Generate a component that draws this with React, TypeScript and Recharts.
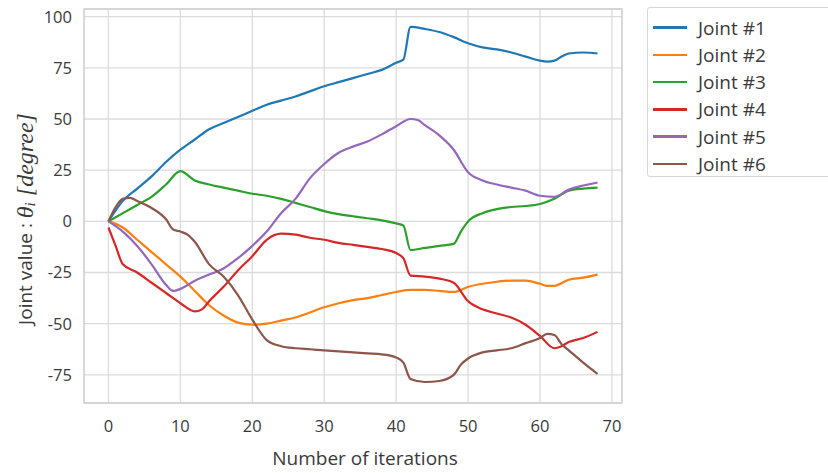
import { LineChart, Line, XAxis, YAxis, CartesianGrid, ReferenceArea } from 'recharts';

// iterations and joint angles (degrees)
const ITER_1 = [0, 2, 4, 6, 8, 10, 12, 14, 16, 18, 20, 22, 24, 26, 28, 30, 32, 34, 36, 38, 40, 41, 42, 44, 46, 48, 50, 52, 54, 56, 58, 60, 61, 62, 63, 64, 66, 68];
const JOINT_1 = [0, 10, 16, 22, 29, 35, 40, 45, 48, 51, 54, 57, 59, 61, 63.5, 66, 68, 70, 72, 74, 77.5, 79, 95, 94, 92.5, 90, 87, 85, 84, 82.5, 80.5, 78.5, 78, 78.5, 80.5, 82, 82.5, 82];

const ITER_2 = [0, 2, 4, 6, 8, 10, 12, 14, 16, 18, 20, 22, 24, 26, 28, 30, 32, 34, 36, 38, 40, 42, 44, 46, 48, 50, 52, 54, 56, 58, 60, 61, 62, 64, 66, 68];
const JOINT_2 = [0, -3, -9, -15, -21, -27, -34, -41, -46, -49.5, -50.5, -50, -48.5, -47, -44.5, -42, -40, -38.5, -37.5, -36, -34.5, -33.5, -33.5, -34, -34.5, -32, -30.5, -29.5, -29, -29, -30.5, -31.5, -31.5, -28.5, -27.5, -26];

const ITER_3 = [0, 2, 4, 6, 8, 10, 12, 14, 16, 18, 20, 22, 24, 26, 28, 30, 32, 34, 36, 38, 40, 41, 42, 44, 46, 48, 49, 50, 52, 54, 56, 58, 60, 62, 64, 66, 68];
const JOINT_3 = [0, 4, 8, 12, 18, 24.5, 20, 18, 16.5, 15, 13.5, 12.5, 11, 9, 7, 5, 3.5, 2.5, 1.5, 0.5, -1, -2, -14, -13, -12, -11, -5, 0, 4, 6, 7, 7.5, 8.5, 11, 15, 16, 16.5];

const ITER_4 = [0, 1, 2, 4, 6, 8, 10, 12, 13, 14, 16, 18, 20, 22, 24, 26, 28, 30, 32, 34, 36, 38, 40, 41, 42, 44, 46, 48, 50, 52, 54, 56, 58, 60, 62, 63, 64, 66, 68];
const JOINT_4 = [-3, -12, -21, -25, -30, -35, -40, -44, -43, -39, -32, -24, -17, -9, -6, -6.5, -8, -9, -10.5, -11.5, -12.5, -13.5, -15.5, -18, -26.5, -27, -28, -30, -39, -43, -45, -47, -50.5, -56, -62, -61, -59, -57, -54];

const ITER_5 = [0, 2, 4, 6, 8, 9, 10, 12, 14, 16, 18, 20, 22, 24, 26, 28, 30, 32, 34, 36, 38, 40, 42, 43, 44, 46, 48, 50, 52, 54, 56, 58, 60, 62, 64, 66, 68];
const JOINT_5 = [0, -5, -12, -21, -31, -34, -33, -29, -26, -23, -18, -12, -5, 4, 11, 21, 28, 33.5, 36.5, 39, 42.5, 46.5, 50, 49.5, 47, 42, 35, 24, 20, 18, 16.5, 15, 12.5, 12, 15.5, 17.5, 19];

const ITER_6 = [0, 1, 2, 3, 4, 6, 8, 9, 10, 11, 12, 14, 16, 18, 20, 22, 24, 26, 28, 30, 32, 34, 36, 38, 40, 41, 42, 44, 46, 48, 49, 50, 52, 54, 56, 58, 60, 61, 62, 63, 64, 66, 68];
const JOINT_6 = [0, 7, 11, 11.5, 10, 6.5, 1, -4, -5, -6.5, -10, -21, -27, -36, -48, -58, -61, -62, -62.5, -63, -63.5, -64, -64.5, -65, -66.5, -69, -77, -78.5, -78, -75, -70, -67, -64, -63, -62, -59.5, -57, -55, -55.5, -60, -63, -69, -74.5];

const X_TICKS = [0, 10, 20, 30, 40, 50, 60, 70];
const Y_TICKS = [-75, -50, -25, 0, 25, 50, 75, 100];
const X_DOMAIN: [number, number] = [-3.4, 71.4];
const Y_DOMAIN: [number, number] = [-88.75, 103.75];

const SERIES = [
  { name: 'Joint #1', iter: ITER_1, values: JOINT_1, color: '#1f77b4' },
  { name: 'Joint #2', iter: ITER_2, values: JOINT_2, color: '#ff7f0e' },
  { name: 'Joint #3', iter: ITER_3, values: JOINT_3, color: '#2ca02c' },
  { name: 'Joint #4', iter: ITER_4, values: JOINT_4, color: '#d62728' },
  { name: 'Joint #5', iter: ITER_5, values: JOINT_5, color: '#9467bd' },
  { name: 'Joint #6', iter: ITER_6, values: JOINT_6, color: '#8c564b' },
];

const FONT = '"Open Sans", "DejaVu Sans", sans-serif';
const TEXT = '#3a3a3a';
const GRID = '#dcdcdc';

function YLabel() {
  return (
    <text
      transform="translate(25,219) rotate(-90)"
      textAnchor="middle"
      dominantBaseline="central"
      fontFamily={FONT}
      fontSize={19}
      fill={TEXT}
    >
      {'Joint value : '}
      <tspan fontFamily="Liberation Serif" fontStyle="italic" fontSize={24}>θ</tspan>
      <tspan fontFamily="Liberation Serif" fontStyle="italic" fontSize={15} dy={5}>i</tspan>
      <tspan fontFamily="Liberation Serif" fontStyle="italic" fontSize={24} dy={-5}>{' [degree]'}</tspan>
    </text>
  );
}

function XLabel() {
  return (
    <text x={365} y={458} textAnchor="middle" dominantBaseline="central" fontFamily={FONT} fontSize={19} fill={TEXT}>
      Number of iterations
    </text>
  );
}

function LegendBox() {
  return (
    <div
      style={{
        position: 'absolute',
        left: 647,
        top: 7,
        width: 200,
        height: 170,
        border: '1px solid #d6d6d6',
        borderRadius: 3,
        background: '#fff',
        boxSizing: 'border-box',
      }}
    >
      {SERIES.map((s, i) => (
        <div
          key={s.name}
          style={{ position: 'absolute', left: 0, top: 6 + i * 27.3, height: 27, display: 'flex', alignItems: 'center' }}
        >
          <div style={{ marginLeft: 5, width: 34, height: 2.5, background: s.color }} />
          <span style={{ marginLeft: 11, fontFamily: FONT, fontSize: 19, color: TEXT, whiteSpace: 'nowrap' }}>{s.name}</span>
        </div>
      ))}
    </div>
  );
}

export default function App() {
  return (
    <div style={{ position: 'absolute', left: 0, top: 0, width: 828, height: 473, overflow: 'hidden', background: '#fff' }}>
      <LineChart width={828} height={473} margin={{ top: 9, right: 206, bottom: 0, left: 0 }}>
        <CartesianGrid stroke={GRID} strokeWidth={1.3} />
        <XAxis
          type="number"
          dataKey="x"
          domain={X_DOMAIN}
          ticks={X_TICKS}
          allowDataOverflow
          height={70}
          axisLine={false}
          tickLine={false}
          tickSize={0}
          tickMargin={17}
          tick={{ fontSize: 16.5, fill: TEXT, fontFamily: FONT }}
          label={{ content: () => <XLabel /> }}
        />
        <YAxis
          type="number"
          dataKey="y"
          domain={Y_DOMAIN}
          ticks={Y_TICKS}
          allowDataOverflow
          width={84}
          axisLine={false}
          tickLine={false}
          tickSize={0}
          tickMargin={12}
          tick={{ fontSize: 16.5, fill: TEXT, fontFamily: FONT }}
          label={{ content: () => <YLabel /> }}
        />
        <ReferenceArea
          x1={X_DOMAIN[0]}
          x2={X_DOMAIN[1]}
          y1={Y_DOMAIN[0]}
          y2={Y_DOMAIN[1]}
          fill="none"
          stroke="#d0d0d0"
          strokeWidth={1.3}
          ifOverflow="visible"
        />
        {SERIES.map((s) => (
          <Line
            key={s.name}
            data={s.iter.map((x, i) => ({ x, y: s.values[i] }))}
            dataKey="y"
            name={s.name}
            type="monotone"
            stroke={s.color}
            strokeWidth={2.2}
            dot={false}
            activeDot={false}
            isAnimationActive={false}
          />
        ))}
      </LineChart>
      <LegendBox />
    </div>
  );
}
